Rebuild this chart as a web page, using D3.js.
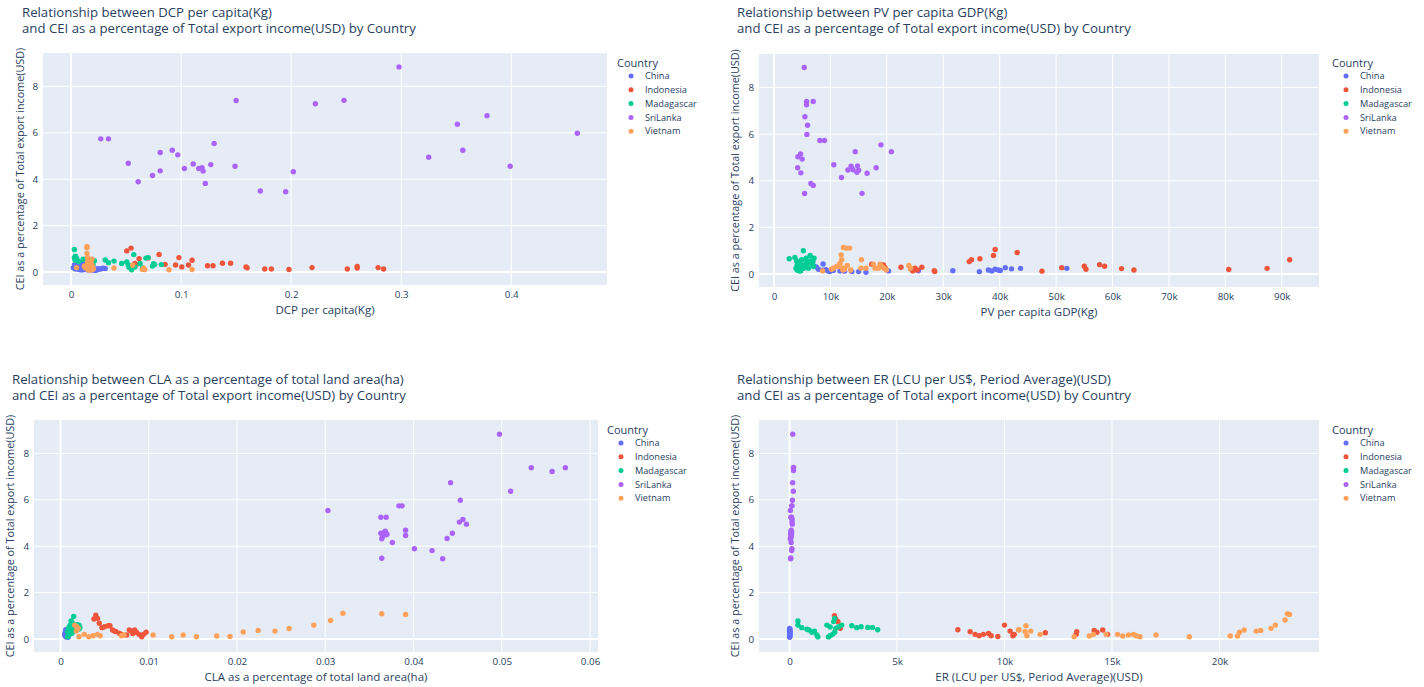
<!DOCTYPE html>
<html><head><meta charset="utf-8">
<script src="https://cdn.jsdelivr.net/npm/d3@7"></script>
<style>
body{margin:0;background:#fff;}
text{font-family:"Open Sans",Arial,sans-serif;fill:#2a3f5f;}
</style>
</head><body>
<svg id="chart" width="1424" height="687"></svg>
<script>
// ---------- categories / ticks ----------
const countries = ["China", "Indonesia", "Madagascar", "SriLanka", "Vietnam"];
const yTicks = [0, 2, 4, 6, 8];
const dcpTicks = [0, 0.1, 0.2, 0.3, 0.4];
const pvTicks = [0, 10000, 20000, 30000, 40000, 50000, 60000, 70000, 80000, 90000];
const claTicks = [0, 0.01, 0.02, 0.03, 0.04, 0.05, 0.06];
const erTicks = [0, 5000, 10000, 15000, 20000];

// ---------- Panel 1: DCP per capita(Kg) vs CEI ----------
const dcpChina = [[0.002,0.18],[0.003,0.30],[0.004,0.13],[0.005,0.22],[0.006,0.35],[0.007,0.12],[0.008,0.25],[0.009,0.40],[0.010,0.17],[0.011,0.10],[0.012,0.28],[0.013,0.14],[0.014,0.20],[0.015,0.09],[0.016,0.12],[0.017,0.33],[0.018,0.15],[0.019,0.08],[0.020,0.11],[0.021,0.18],[0.022,0.07],[0.023,0.12],[0.024,0.10],[0.025,0.14],[0.027,0.13],[0.029,0.16],[0.031,0.15],[0.006,0.14],[0.012,0.42],[0.009,0.09]];
const dcpIndonesia = [[0.0506,0.91],[0.0545,1.03],[0.058,0.37],[0.059,0.31],[0.0618,0.57],[0.070,0.60],[0.080,0.76],[0.0855,0.33],[0.095,0.30],[0.098,0.62],[0.1006,0.22],[0.1067,0.30],[0.110,0.51],[0.124,0.27],[0.129,0.27],[0.1376,0.38],[0.145,0.38],[0.159,0.22],[0.160,0.18],[0.176,0.13],[0.182,0.13],[0.198,0.11],[0.219,0.19],[0.251,0.13],[0.260,0.24],[0.260,0.17],[0.279,0.19],[0.284,0.13]];
const dcpMadagascar = [[0.003,0.97],[0.003,0.62],[0.0035,0.55],[0.004,0.68],[0.004,0.50],[0.005,0.58],[0.007,0.45],[0.011,0.55],[0.0212,0.49],[0.031,0.52],[0.034,0.40],[0.039,0.47],[0.046,0.37],[0.0506,0.43],[0.0527,0.20],[0.055,0.10],[0.057,0.75],[0.0627,0.37],[0.065,0.17],[0.068,0.60],[0.070,0.62],[0.074,0.26],[0.075,0.36],[0.076,0.32],[0.082,0.32],[0.052,0.30],[0.058,0.22],[0.015,0.60],[0.020,0.35]];
const dcpSriLanka = [[0.298,8.84],[0.150,7.39],[0.222,7.25],[0.248,7.40],[0.351,6.37],[0.378,6.74],[0.460,5.98],[0.027,5.74],[0.034,5.74],[0.052,4.69],[0.061,3.89],[0.074,4.16],[0.081,4.36],[0.081,5.15],[0.092,5.25],[0.097,5.05],[0.103,4.46],[0.111,4.66],[0.116,4.46],[0.119,4.50],[0.120,4.35],[0.122,3.82],[0.127,4.63],[0.130,5.54],[0.149,4.56],[0.172,3.49],[0.195,3.46],[0.202,4.32],[0.325,4.95],[0.356,5.25],[0.399,4.56]];
const dcpVietnam = [[0.0145,1.10],[0.0145,1.05],[0.0145,0.80],[0.015,0.62],[0.015,0.45],[0.016,0.35],[0.014,0.28],[0.017,0.22],[0.016,0.15],[0.018,0.40],[0.019,0.30],[0.020,0.18],[0.013,0.18],[0.0155,0.10],[0.019,0.55],[0.020,0.12],[0.005,0.19],[0.018,0.08],[0.039,0.17],[0.056,0.29],[0.065,0.11],[0.067,0.11],[0.066,0.16],[0.089,0.10],[0.110,0.11],[0.012,0.25],[0.017,0.50]];

// ---------- Panel 2: PV per capita GDP(Kg) vs CEI ----------
const pvChina = [[7000,0.35],[7500,0.30],[7900,0.20],[8700,0.43],[8700,0.16],[9200,0.18],[9600,0.13],[9900,0.10],[10500,0.15],[11700,0.13],[12500,0.12],[13800,0.10],[15000,0.10],[16300,0.07],[20300,0.13],[25600,0.14],[31700,0.14],[36400,0.10],[38000,0.17],[38600,0.13],[39200,0.20],[39800,0.17],[40100,0.15],[41000,0.27],[42100,0.22],[43700,0.24],[51900,0.24]];
const pvIndonesia = [[17300,0.42],[19400,0.39],[19700,0.27],[22500,0.29],[24200,0.22],[24600,0.13],[25000,0.25],[25400,0.17],[26200,0.29],[28400,0.14],[28500,0.10],[34600,0.53],[35000,0.61],[36500,0.65],[38900,0.79],[39200,1.05],[43100,0.92],[47500,0.12],[51000,0.27],[55000,0.33],[55300,0.20],[57700,0.40],[58600,0.33],[61600,0.23],[63800,0.17],[80600,0.19],[87400,0.24],[91400,0.61]];
const pvMadagascar = [[2700,0.65],[3700,0.71],[4000,0.56],[4100,0.39],[4100,0.17],[4500,0.50],[4600,0.30],[4700,0.13],[4900,0.61],[5200,1.00],[5200,0.39],[5300,0.25],[5700,0.68],[5800,0.50],[5900,0.32],[6400,0.79],[6500,0.56],[6700,0.42],[6900,0.53],[7000,0.32],[7100,0.68],[4500,0.13],[3900,0.25],[4900,0.22],[6100,0.25]];
const pvSriLanka = [[5360,8.86],[5770,7.40],[5770,7.26],[6950,7.40],[5480,6.75],[5950,6.38],[5830,5.99],[8130,5.73],[8950,5.73],[4710,5.15],[4240,5.03],[5000,4.93],[4190,4.56],[4770,4.34],[6540,3.88],[6950,3.80],[5420,3.45],[10600,4.69],[11960,4.14],[13100,4.46],[13660,4.62],[14000,4.47],[14800,4.64],[15000,4.45],[14700,4.36],[14400,5.25],[15600,3.46],[16500,4.32],[18100,4.56],[18960,5.54],[20800,5.25]];
const pvVietnam = [[12300,1.14],[12800,1.11],[13400,1.11],[11900,0.82],[12000,0.61],[11700,0.46],[11600,0.32],[12300,0.25],[12500,0.20],[12200,0.17],[11100,0.32],[10500,0.25],[10200,0.20],[8600,0.13],[15500,0.61],[15400,0.25],[16300,0.25],[17600,0.42],[17900,0.25],[18500,0.25],[18800,0.42],[19100,0.32],[19500,0.25],[19900,0.17],[23900,0.36],[24200,0.25],[13000,0.36],[13600,0.17]];

// ---------- Panel 3: CLA as a percentage of total land area(ha) vs CEI ----------
const claChina = [[0.0005,0.25],[0.0006,0.18],[0.0006,0.30],[0.0007,0.12],[0.0007,0.22],[0.0008,0.35],[0.0008,0.15],[0.0009,0.20],[0.0009,0.10],[0.0006,0.40],[0.0007,0.28],[0.0008,0.08],[0.0009,0.30],[0.0005,0.15],[0.0006,0.10],[0.0007,0.38],[0.0008,0.24],[0.0009,0.13],[0.0006,0.20],[0.0007,0.16]];
const claIndonesia = [[0.0040,1.03],[0.0038,0.86],[0.0042,0.89],[0.0044,0.68],[0.0047,0.49],[0.0050,0.53],[0.0054,0.57],[0.0056,0.57],[0.0059,0.39],[0.0061,0.34],[0.0063,0.32],[0.0067,0.24],[0.0070,0.17],[0.0078,0.39],[0.0080,0.34],[0.0084,0.39],[0.0086,0.29],[0.0089,0.20],[0.0092,0.10],[0.0094,0.20],[0.0097,0.29],[0.0082,0.24],[0.0075,0.17]];
const claMadagascar = [[0.0015,0.97],[0.0012,0.78],[0.0013,0.70],[0.0011,0.60],[0.0012,0.55],[0.0009,0.46],[0.0010,0.40],[0.0008,0.32],[0.0010,0.20],[0.0008,0.10],[0.0009,0.15],[0.0014,0.53],[0.0016,0.43],[0.0020,0.53],[0.0021,0.43],[0.0011,0.30],[0.0013,0.25],[0.0016,0.60],[0.0018,0.50],[0.0019,0.62],[0.0021,0.60],[0.0022,0.50],[0.0012,0.45],[0.0014,0.65],[0.0010,0.52]];
const claSriLanka = [[0.04974,8.83],[0.05334,7.38],[0.0557,7.22],[0.0572,7.38],[0.0442,6.74],[0.0510,6.37],[0.0453,5.98],[0.0303,5.54],[0.03835,5.74],[0.0387,5.74],[0.0363,5.25],[0.0369,5.25],[0.0456,5.15],[0.0452,5.04],[0.0460,4.95],[0.0363,4.56],[0.0368,4.65],[0.0369,4.49],[0.0365,4.42],[0.0364,4.32],[0.0391,4.69],[0.0391,4.46],[0.0444,4.56],[0.0438,4.33],[0.0376,4.16],[0.0401,3.89],[0.0421,3.81],[0.0433,3.46],[0.0364,3.48],[0.0367,4.60],[0.0370,4.52]];
const claVietnam = [[0.00185,0.53],[0.0016,0.60],[0.0018,0.34],[0.0021,0.10],[0.0020,0.45],[0.0027,0.20],[0.0032,0.10],[0.0037,0.14],[0.0042,0.20],[0.0045,0.14],[0.0069,0.14],[0.0072,0.17],[0.0105,0.17],[0.0126,0.10],[0.0139,0.17],[0.0154,0.10],[0.0177,0.13],[0.0192,0.11],[0.0207,0.30],[0.0224,0.37],[0.0243,0.34],[0.0259,0.45],[0.0287,0.60],[0.0306,0.80],[0.0320,1.11],[0.0364,1.09],[0.0391,1.06]];

// ---------- Panel 4: ER (LCU per US$, Period Average)(USD) vs CEI ----------
const erChina = [[8.3,0.15],[8.3,0.20],[8.2,0.25],[8.1,0.30],[7.6,0.35],[6.9,0.40],[6.8,0.45],[6.6,0.12],[6.2,0.10],[6.1,0.18],[6.5,0.22],[6.8,0.28],[6.9,0.33],[6.4,0.38],[5.5,0.42],[5.8,0.08],[4.8,0.13],[5.5,0.17],[7.0,0.26],[7.2,0.31]];
const erIndonesia = [[2090,1.00],[2150,0.86],[2250,0.75],[2360,0.46],[7830,0.40],[8400,0.32],[8630,0.20],[8820,0.14],[9020,0.20],[9260,0.24],[9380,0.14],[9690,0.11],[10000,0.60],[10260,0.34],[10390,0.14],[10450,0.20],[11900,0.27],[13360,0.32],[13330,0.20],[14170,0.37],[14300,0.29],[14570,0.39],[14800,0.20],[10420,0.17]];
const erMadagascar = [[390,0.78],[390,0.60],[570,0.49],[810,0.42],[910,0.39],[1040,0.29],[1160,0.34],[1270,0.17],[1320,0.09],[1810,0.09],[1890,0.14],[2000,0.20],[2100,0.29],[1740,0.60],[1890,0.52],[2050,0.75],[2100,0.89],[2150,0.46],[2280,0.53],[2430,0.60],[2900,0.57],[3130,0.49],[3330,0.53],[3640,0.50],[3860,0.50],[4100,0.40]];
const erSriLanka = [[150,8.83],[178,7.38],[186,7.26],[190,7.40],[145,6.74],[178,6.37],[135,5.98],[110,5.74],[105,5.74],[40,5.54],[60,5.25],[95,5.25],[120,5.15],[115,5.04],[125,4.95],[80,4.69],[55,4.56],[100,4.62],[70,4.46],[90,4.49],[65,4.36],[45,4.32],[85,4.56],[75,4.16],[110,3.89],[100,3.81],[50,3.46],[60,3.49],[75,4.66],[80,4.45],[40,4.33]];
const erVietnam = [[10680,0.40],[10650,0.39],[11000,0.57],[10960,0.32],[11040,0.14],[11220,0.34],[11660,0.20],[13240,0.10],[13950,0.13],[14140,0.20],[14730,0.20],[15260,0.20],[15500,0.13],[15770,0.17],[16000,0.20],[16120,0.14],[16300,0.10],[17050,0.17],[18600,0.10],[20500,0.13],[20840,0.13],[20930,0.29],[21150,0.39],[21710,0.34],[21920,0.37],[22400,0.46],[22600,0.60],[23050,0.82],[23160,1.09],[23260,1.06]];

// ---------- drawing ----------
const colors = ["#636efa", "#EF553B", "#00cc96", "#ab63fa", "#FFA15A"];
const yTitle = "CEI as a percentage of Total export income(USD)";
const svg = d3.select("#chart");

const panels = [
  {title: ["Relationship between DCP per capita(Kg)", "and CEI as a percentage of Total export income(USD) by Country"],
   xlabel: "DCP per capita(Kg)", series: [dcpChina, dcpIndonesia, dcpMadagascar, dcpSriLanka, dcpVietnam],
   xTicks: dcpTicks, xDomain: [-0.0255, 0.487], fmt: d => d3.format("~g")(d),
   L: 43, R: 607, T: 53, B: 285, tx: 22, ty: 17, yt: 20, lx: 617, ly: 63},
  {title: ["Relationship between PV per capita GDP(Kg)", "and CEI as a percentage of Total export income(USD) by Country"],
   xlabel: "PV per capita GDP(Kg)", series: [pvChina, pvIndonesia, pvMadagascar, pvSriLanka, pvVietnam],
   xTicks: pvTicks, xDomain: [-2660, 96600], fmt: d => d === 0 ? "0" : (d / 1000) + "k",
   L: 759, R: 1319, T: 54, B: 287, tx: 737, ty: 17, yt: 735, lx: 1332, ly: 63},
  {title: ["Relationship between CLA as a percentage of total land area(ha)", "and CEI as a percentage of Total export income(USD) by Country"],
   xlabel: "CLA as a percentage of total land area(ha)", series: [claChina, claIndonesia, claMadagascar, claSriLanka, claVietnam],
   xTicks: claTicks, xDomain: [-0.0030, 0.0609], fmt: d => d3.format("~g")(d),
   L: 34, R: 598, T: 420, B: 652, tx: 12, ty: 384, yt: 10, lx: 607, ly: 430},
  {title: ["Relationship between ER (LCU per US$, Period Average)(USD)", "and CEI as a percentage of Total export income(USD) by Country"],
   xlabel: "ER (LCU per US$, Period Average)(USD)", series: [erChina, erIndonesia, erMadagascar, erSriLanka, erVietnam],
   xTicks: erTicks, xDomain: [-1420, 24630], fmt: d => d === 0 ? "0" : (d / 1000) + "k",
   L: 759, R: 1319, T: 420, B: 652, tx: 737, ty: 384, yt: 735, lx: 1332, ly: 430}
];

panels.forEach(p => {
  const g = svg.append("g");
  const x = d3.scaleLinear().domain(p.xDomain).range([p.L, p.R]);
  const y = d3.scaleLinear().domain([-0.56, 9.44]).range([p.B, p.T]);

  g.append("rect").attr("x", p.L).attr("y", p.T).attr("width", p.R - p.L).attr("height", p.B - p.T).attr("fill", "#E5ECF6");

  // grid
  g.selectAll(".gx").data(p.xTicks).enter().append("line")
    .attr("x1", d => x(d)).attr("x2", d => x(d)).attr("y1", p.T).attr("y2", p.B)
    .attr("stroke", "#fff").attr("stroke-width", d => d === 0 ? 2 : 1);
  g.selectAll(".gy").data(yTicks).enter().append("line")
    .attr("y1", d => y(d)).attr("y2", d => y(d)).attr("x1", p.L).attr("x2", p.R)
    .attr("stroke", "#fff").attr("stroke-width", d => d === 0 ? 2 : 1);

  // axes via d3
  const xAxis = d3.axisBottom(x).tickValues(p.xTicks).tickFormat(p.fmt).tickSize(0).tickPadding(6);
  const ax = g.append("g").attr("transform", `translate(0,${p.B})`).call(xAxis);
  ax.select(".domain").remove();
  ax.selectAll("text").attr("font-size", 9.8).style("fill", "#2a3f5f").attr("font-family", "Open Sans, Arial, sans-serif");
  const yAxis = d3.axisLeft(y).tickValues(yTicks).tickSize(0).tickPadding(5);
  const ay = g.append("g").attr("transform", `translate(${p.L},0)`).call(yAxis);
  ay.select(".domain").remove();
  ay.selectAll("text").attr("font-size", 9.8).style("fill", "#2a3f5f").attr("font-family", "Open Sans, Arial, sans-serif");

  // points
  p.series.forEach((s, i) => {
    g.append("g").selectAll("circle").data(s).enter().append("circle")
      .attr("cx", d => x(d[0])).attr("cy", d => y(d[1])).attr("r", 2.7)
      .attr("fill", colors[i]);
  });

  // titles
  g.append("text").attr("x", p.tx).attr("y", p.ty).attr("font-size", 13.2).text(p.title[0]);
  g.append("text").attr("x", p.tx).attr("y", p.ty + 16).attr("font-size", 13.2).text(p.title[1]);
  g.append("text").attr("x", (p.L + p.R) / 2).attr("y", p.B + 29).attr("text-anchor", "middle").attr("font-size", 11.5).text(p.xlabel);
  g.append("text").attr("transform", `translate(${p.yt},${(p.T + p.B) / 2}) rotate(-90)`).attr("text-anchor", "middle")
    .attr("dy", "0.35em").attr("font-size", 10.8).text(yTitle);

  // legend
  g.append("text").attr("x", p.lx).attr("y", p.ly + 4).attr("font-size", 11).text("Country");
  countries.forEach((c, i) => {
    const yy = p.ly + 13 + i * 13.8;
    g.append("circle").attr("cx", p.lx + 14).attr("cy", yy).attr("r", 2.5).attr("fill", colors[i]);
    g.append("text").attr("x", p.lx + 28).attr("y", yy).attr("dy", "0.35em").attr("font-size", 9.2).text(c);
  });
});
</script>
</body></html>
